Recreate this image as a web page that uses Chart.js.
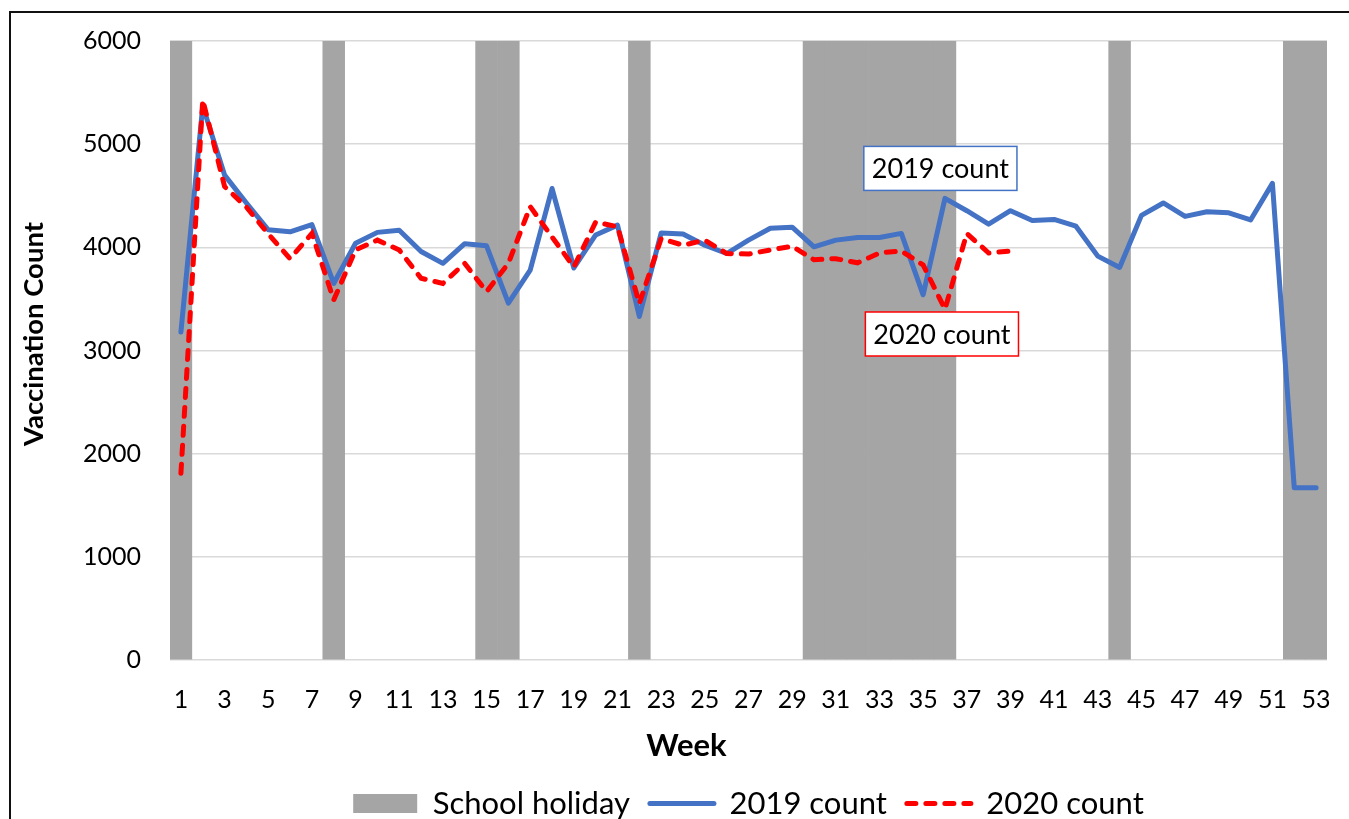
<!DOCTYPE html>
<html>
<head>
<meta charset="utf-8">
<script src="https://cdn.jsdelivr.net/npm/chart.js@4.4.0/dist/chart.umd.min.js"></script>
<style>
	html, body { margin: 0; padding: 0; background: #fff; overflow: hidden; width: 1349px; height: 819px; }
	#wrap { position: relative; width: 1349px; height: 829px; }
	#frame { position: absolute; left: 9px; top: 11px; width: 1400px; height: 900px; border: 2px solid #111; box-sizing: border-box; pointer-events: none; }
</style>
</head>
<body>
<div id="wrap">
	<canvas id="chart"></canvas>
	<div id="frame"></div>
</div>
<script>
const weeks = [1, 2, 3, 4, 5, 6, 7, 8, 9, 10, 11, 12, 13, 14, 15, 16, 17, 18, 19, 20,
	21, 22, 23, 24, 25, 26, 27, 28, 29, 30, 31, 32, 33, 34, 35, 36, 37, 38, 39, 40,
	41, 42, 43, 44, 45, 46, 47, 48, 49, 50, 51, 52, 53];

const count2019 = [3180, 5370, 4700, 4430, 4170, 4150, 4220, 3650, 4040, 4145,
	4165, 3960, 3845, 4035, 4015, 3460, 3780, 4570, 3800, 4120,
	4215, 3330, 4140, 4130, 4020, 3940, 4070, 4185, 4195, 4005,
	4070, 4095, 4095, 4135, 3540, 4475, 4355, 4225, 4355, 4260,
	4270, 4205, 3915, 3805, 4310, 4430, 4300, 4345, 4335, 4265,
	4620, 1670, 1670];

const count2020 = [1810, 5430, 4590, 4390, 4130, 3890, 4135, 3490, 3975, 4070,
	3975, 3700, 3650, 3845, 3570, 3845, 4395, 4100, 3810, 4245,
	4200, 3455, 4085, 4020, 4070, 3940, 3935, 3975, 4010, 3880,
	3890, 3850, 3945, 3965, 3830, 3400, 4135, 3945, 3965];

// weeks shaded as school holiday, bars run to the top of the axis
const holidayWeeks = [1, 8, 15, 16, 22, 30, 31, 32, 33, 34, 35, 36, 44, 52, 53];
const holidayTop = 6000;

// the two boxed line labels: text, week and value they sit at
const noteTexts = ["2019 count", "2020 count"];
const noteWeeks = [35.79, 35.86];
const noteValues = [4765, 3160];
const noteColors = ["#4472C4", "#FF0000"];

const xTitle = "Week";
const yTitle = "Vaccination Count";

const FONT = 'Lato, "Liberation Sans", sans-serif';
Chart.defaults.font.family = FONT;
Chart.defaults.color = "#000";

const holiday = weeks.map(w => holidayWeeks.includes(w) ? holidayTop : null);

// boxed labels and the axis captions (placed like the original, off-centre)
const chartTexts = {
	id: "chartTexts",
	afterDatasetsDraw(chart) {
		const ctx = chart.ctx;
		const x = chart.scales.x;
		const y = chart.scales.y;
		ctx.save();
		ctx.font = "27px " + FONT;
		ctx.textAlign = "center";
		ctx.textBaseline = "middle";
		for(let i = 0; i < noteTexts.length; i++) {
			const cx = x.getPixelForValue(noteWeeks[i] - 1);
			const cy = y.getPixelForValue(noteValues[i]);
			const w = ctx.measureText(noteTexts[i]).width + 16;
			const h = 44;
			ctx.fillStyle = "#fff";
			ctx.fillRect(cx - w / 2, cy - h / 2, w, h);
			ctx.strokeStyle = noteColors[i];
			ctx.lineWidth = 1.5;
			ctx.strokeRect(cx - w / 2, cy - h / 2, w, h);
			ctx.fillStyle = "#000";
			ctx.fillText(noteTexts[i], cx, cy + 1);
		}
		
		ctx.font = "bold 31px " + FONT;
		ctx.fillText(xTitle, x.getPixelForValue(23.16), x.top + 86);
		
		ctx.translate(y.left + 34, y.getPixelForValue(3160));
		ctx.rotate(-Math.PI / 2);
		ctx.font = "bold 27.5px " + FONT;
		ctx.fillText(yTitle, 0, 0);
		ctx.restore();
	}
};

function legendLabels(chart) {
	const items = Chart.defaults.plugins.legend.labels.generateLabels(chart);
	for(const item of items) {
		const ds = chart.data.datasets[item.datasetIndex];
		if(ds.type === "line") {
			item.lineWidth = ds.borderWidth;
			item.lineDash = ds.borderDash || [];
			item.lineCap = ds.borderCapStyle || "butt";
			item.strokeStyle = ds.borderColor;
		}
		else {
			item.lineWidth = 0;
		}
	}
	return items;
}

// keep the label overhang out of the layout, the plot box is set by layout.padding
function noOverhang(scale) {
	scale.paddingLeft = 0;
	scale.paddingRight = 0;
	scale.paddingTop = 0;
	scale.paddingBottom = 0;
}

new Chart(document.getElementById("chart").getContext("2d"), {
	type: "bar",
	data: {
		labels: weeks,
		datasets: [
			{
				type: "bar",
				label: "School holiday",
				data: holiday,
				backgroundColor: "#A5A5A5",
				borderWidth: 0,
				barPercentage: 1,
				categoryPercentage: 1,
				pointStyle: "rect",
				order: 3
			},
			{
				type: "line",
				label: "2019 count",
				data: count2019,
				borderColor: "#4472C4",
				backgroundColor: "#4472C4",
				borderWidth: 5,
				borderJoinStyle: "round",
				borderCapStyle: "round",
				pointRadius: 0,
				pointStyle: "line",
				tension: 0,
				order: 2
			},
			{
				type: "line",
				label: "2020 count",
				data: count2020,
				borderColor: "#FF0000",
				backgroundColor: "#FF0000",
				borderWidth: 5,
				borderDash: [9, 10],
				borderCapStyle: "round",
				pointRadius: 0,
				pointStyle: "line",
				tension: 0,
				order: 1
			}
		]
	},
	options: {
		responsive: true,
		maintainAspectRatio: false,
		animation: false,
		layout: {
			autoPadding: false,
			padding: {left: 0, right: 22, top: 41, bottom: 0}
		},
		plugins: {
			tooltip: {enabled: false},
			legend: {
				position: "bottom",
				fullSize: false,
				labels: {
					usePointStyle: true,
					pointStyleWidth: 64,
					boxHeight: 19,
					padding: 20,
					font: {size: 31},
					color: "#000",
					generateLabels: legendLabels,
					sort: (a, b) => a.datasetIndex - b.datasetIndex
				}
			}
		},
		scales: {
			x: {
				grid: {display: false, drawTicks: false},
				border: {display: false},
				ticks: {
					autoSkip: false,
					maxRotation: 0,
					padding: 25,
					font: {size: 25},
					callback: function(value, index) {
						return index % 2 === 0 ? String(weeks[index]) : "";
					}
				},
				afterFit(scale) {
					scale.height = 108;
					noOverhang(scale);
				}
			},
			y: {
				min: 0,
				max: 6000,
				ticks: {
					stepSize: 1000,
					padding: 29,
					font: {size: 25},
					callback: value => String(value)
				},
				grid: {color: "#D9D9D9", lineWidth: 1.5, drawTicks: false},
				border: {display: false},
				afterFit(scale) {
					scale.width = 170;
					noOverhang(scale);
				}
			}
		}
	},
	plugins: [chartTexts]
});
</script>
</body>
</html>
